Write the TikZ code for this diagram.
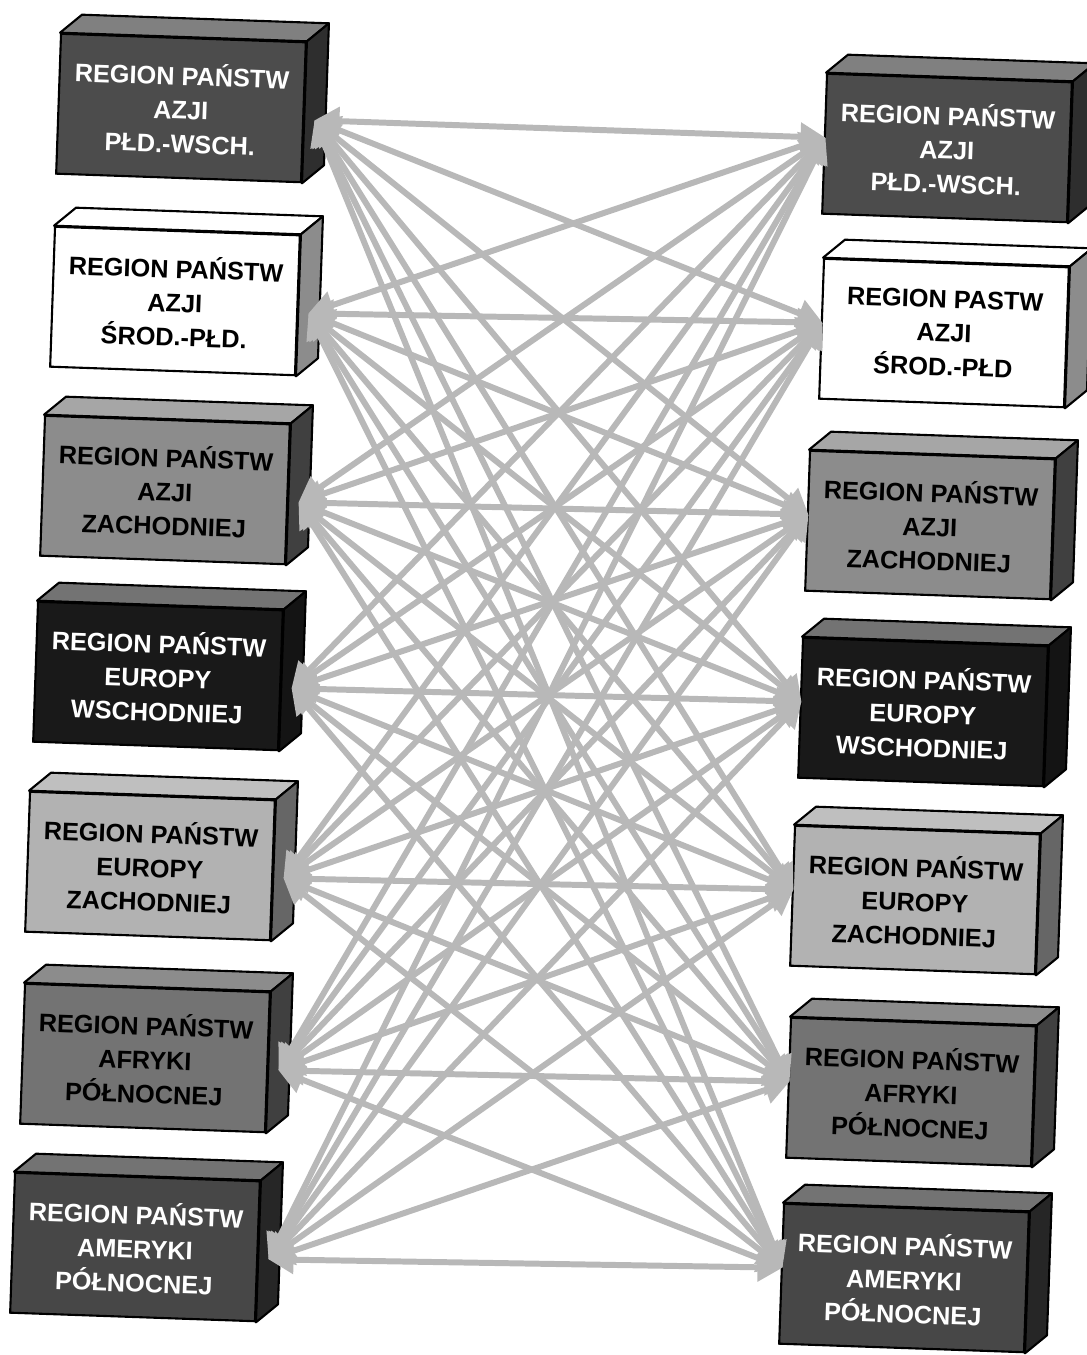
\documentclass[tikz,border=0pt]{standalone}
\usepackage{fontspec}
\setmainfont{Liberation Sans}
\usetikzlibrary{arrows.meta,calc}
\usepackage{xcolor}

\definecolor{linkgray}{gray}{0.72}

\tikzset{
  front/.style={draw=black, line width=1.2pt, minimum width=4.9cm, minimum height=2.8cm,
    inner sep=0pt, align=center, rotate=-2,
    font=\bfseries\fontsize{14.4}{19.3}\selectfont},
  face/.style={draw=black, line width=1.2pt, line join=round},
  link/.style={draw=linkgray, line width=3.4pt,
    {Triangle[length=0.5cm,width=0.55cm]}-{Triangle[length=0.5cm,width=0.55cm]}},
}

% gorna i boczna sciana prostopadloscianu
\newcommand{\boxsides}[3]{%
  \filldraw[face, fill=#2] (#1.north west) -- ++(22,-18) -- ($(#1.north east)+(22,-18)$) -- (#1.north east) -- cycle;
  \filldraw[face, fill=#3] (#1.north east) -- ++(22,-18) -- ($(#1.south east)+(22,-18)$) -- (#1.south east) -- cycle;
}

\begin{document}
\begin{tikzpicture}[x=0.02cm,y=-0.02cm]
  \useasboundingbox (0,0) rectangle (1086,1355);

  % lewa kolumna
  \node[front, fill=black!70, text=white] (L1) at (181,108) {REGION PAŃSTW\\AZJI\\PŁD.-WSCH.};
  \node[front, fill=white] (L2) at (175,301) {REGION PAŃSTW\\AZJI\\ŚROD.-PŁD.};
  \node[front, fill=black!45] (L3) at (165,490) {REGION PAŃSTW\\AZJI\\ZACHODNIEJ};
  \node[front, fill=black!90, text=white] (L4) at (158,676) {REGION PAŃSTW\\EUROPY\\WSCHODNIEJ};
  \node[front, fill=black!30] (L5) at (150,866) {REGION PAŃSTW\\EUROPY\\ZACHODNIEJ};
  \node[front, fill=black!55] (L6) at (145,1058) {REGION PAŃSTW\\AFRYKI\\PÓŁNOCNEJ};
  \node[front, fill=black!72, text=white] (L7) at (135,1247) {REGION PAŃSTW\\AMERYKI\\PÓŁNOCNEJ};

  % prawa kolumna
  \node[front, fill=black!70, text=white] (R1) at (947,148) {REGION PAŃSTW\\AZJI\\PŁD.-WSCH.};
  \node[front, fill=white] (R2) at (944,333) {REGION PASTW\\AZJI\\ŚROD.-PŁD};
  \node[front, fill=black!45] (R3) at (930,525) {REGION PAŃSTW\\AZJI\\ZACHODNIEJ};
  \node[front, fill=black!90, text=white] (R4) at (923,712) {REGION PAŃSTW\\EUROPY\\WSCHODNIEJ};
  \node[front, fill=black!30] (R5) at (915,900) {REGION PAŃSTW\\EUROPY\\ZACHODNIEJ};
  \node[front, fill=black!55] (R6) at (911,1092) {REGION PAŃSTW\\AFRYKI\\PÓŁNOCNEJ};
  \node[front, fill=black!72, text=white] (R7) at (904,1278) {REGION PAŃSTW\\AMERYKI\\PÓŁNOCNEJ};

  % sciany
  \foreach \s in {L,R} {
    \boxsides{\s1}{black!50}{black!82}
    \boxsides{\s2}{white}{black!45}
    \boxsides{\s3}{black!35}{black!75}
    \boxsides{\s4}{black!55}{black!92}
    \boxsides{\s5}{black!25}{black!60}
    \boxsides{\s6}{black!45}{black!75}
    \boxsides{\s7}{black!55}{black!85}
  }

  % punkty zaczepienia strzalek
  \foreach \i in {1,...,7} {
    \coordinate (lt\i) at ($(L\i.east)+(10,8)$);
    \coordinate (rt\i) at ($(R\i.west)+(2,-6)$);
  }

  % kazdy region z kazdym
  \foreach \i in {1,...,7}
    \foreach \j in {1,...,7}
      \draw[link] (lt\i) -- (rt\j);
\end{tikzpicture}
\end{document}
